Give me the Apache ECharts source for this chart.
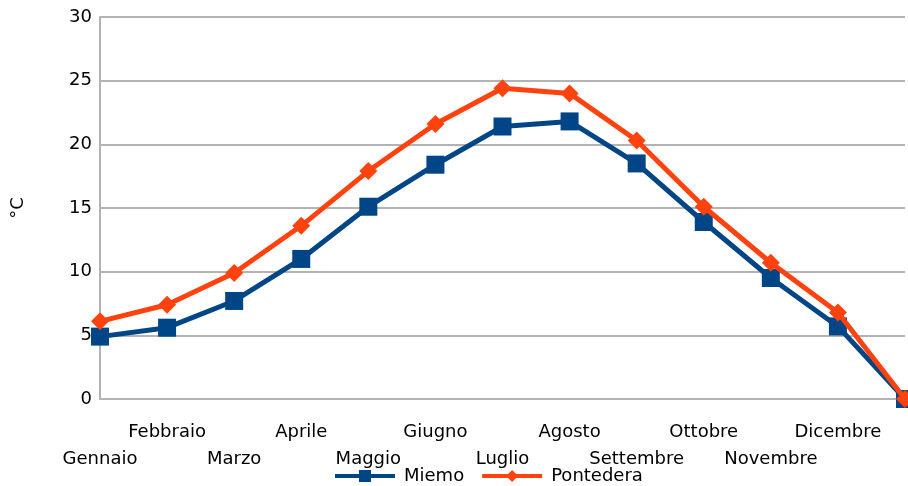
<!DOCTYPE html>
<html><head><meta charset="utf-8">
<script src="https://cdn.jsdelivr.net/npm/echarts@6/dist/echarts.min.js"></script>
<style>html,body{margin:0;padding:0;background:#fff}#c{width:908px;height:486px}</style>
</head><body><div id="c"></div>
<script>
const categories = ['Gennaio','Febbraio','Marzo','Aprile','Maggio','Giugno','Luglio','Agosto','Settembre','Ottobre','Novembre','Dicembre',''];
const miemo = [4.9, 5.6, 7.7, 11.0, 15.1, 18.4, 21.4, 21.8, 18.5, 13.9, 9.5, 5.7, 0];
const pontedera = [6.1, 7.4, 9.9, 13.6, 17.9, 21.6, 24.4, 24.0, 20.3, 15.1, 10.7, 6.8, 0];
const yTicks = [0, 5, 10, 15, 20, 25, 30];
const font = '"DejaVu Sans", sans-serif';
const chart = echarts.init(document.getElementById('c'));
chart.setOption({
  animation: false,
  grid: { left: 100, right: 3, top: 17, bottom: 87 },
  legend: {
    top: 467, left: 333, padding: 0, itemWidth: 60, itemHeight: 15, itemGap: 16,
    lineStyle: { width: 4 },
    textStyle: { fontFamily: font, fontSize: 18, color: '#000', padding: [0, 0, 0, 4] },
    data: ['Miemo', 'Pontedera']
  },
  xAxis: {
    type: 'category', data: categories, boundaryGap: false,
    axisLine: { lineStyle: { color: '#b3b3b3', width: 2 } },
    axisTick: { show: false },
    axisLabel: {
      interval: 0, margin: 20, fontFamily: font, fontSize: 18, color: '#000', lineHeight: 27,
      formatter: (v, i) => (i % 2 === 0 ? '\n' + v : v)
    }
  },
  yAxis: {
    type: 'value', min: yTicks[0], max: yTicks[yTicks.length - 1], interval: 5,
    name: '°C', nameLocation: 'middle', nameGap: 73, nameRotate: 90,
    nameTextStyle: { fontFamily: font, fontSize: 18, color: '#000' },
    axisLine: { show: true, lineStyle: { color: '#b3b3b3', width: 2 } },
    axisTick: { show: false },
    splitLine: { lineStyle: { color: '#b3b3b3', width: 2 } },
    axisLabel: { margin: 8, fontFamily: font, fontSize: 18, color: '#000' }
  },
  series: [
    { name: 'Miemo', type: 'line', data: miemo, symbol: 'rect', symbolSize: 18,
      lineStyle: { color: '#004586', width: 5 }, itemStyle: { color: '#004586' }, z: 2 },
    { name: 'Pontedera', type: 'line', data: pontedera, symbol: 'diamond', symbolSize: 18,
      lineStyle: { color: '#ff420e', width: 5 }, itemStyle: { color: '#ff420e' }, z: 3 }
  ]
});
</script></body></html>
